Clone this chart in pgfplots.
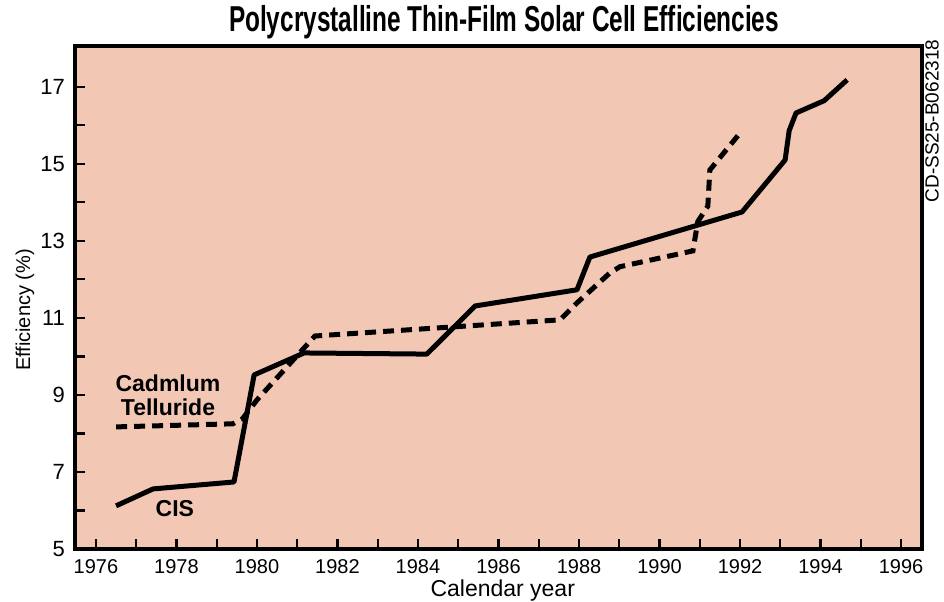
\documentclass[border=0pt]{standalone}
\usepackage{pgfplots}
\pgfplotsset{compat=1.18}
\usepackage{fontspec}
\setmainfont{Liberation Sans}
\usepackage{graphicx}
\definecolor{peach}{RGB}{242,200,181}

\begin{document}
\begin{tikzpicture}
\begin{axis}[
  name=ax,
  width=423.5pt, height=251.5pt, scale only axis,
  xmin=1975.48, xmax=1996.52, ymin=5, ymax=18.06,
  axis background/.style={fill=peach},
  axis line style={line width=2pt},
  tick align=inside, xtick pos=lower, ytick pos=left,
  major tick length=5pt, minor tick length=5pt,
  every tick/.style={black, line width=1.1pt},
  xtick={1976,1978,...,1996}, minor xtick={1977,1979,...,1995},
  ytick={5,7,...,17}, minor ytick={6,8,...,16},
  xticklabel={\pgfmathprintnumber[fixed,precision=0,1000 sep={}]{\tick}},
  xticklabel style={font=\fontsize{10}{11}\selectfont, yshift=-1.5pt},
  yticklabel style={font=\fontsize{11}{12}\selectfont, xshift=-1.5pt},
  /pgf/number format/assume math mode=true,
  xlabel={Calendar year}, ylabel={Efficiency (\%)},
  xlabel style={font=\fontsize{11.5}{12}\selectfont, at={(rel axis cs:0.505,-0.0954)}, anchor=base},
  ylabel style={font=\fontsize{10}{12}\selectfont, at={(rel axis cs:-0.059,0.475)}, anchor=center},
  clip=false,
]
% CIS
\addplot[black, line width=2.5pt, line join=round] coordinates {
  (1976.5,6.12)(1977.42,6.56)(1979.43,6.74)(1979.93,9.52)(1981.17,10.09)
  (1984.22,10.06)(1985.42,11.31)(1987.95,11.73)(1988.27,12.58)(1992.05,13.75)
  (1993.12,15.10)(1993.22,15.86)(1993.39,16.32)(1994.09,16.64)(1994.66,17.18)};
% Cadmium telluride
\addplot[black, line width=2.5pt, dash pattern=on 5.5pt off 3.5pt] coordinates {
  (1976.5,8.17)(1979.4,8.25)(1979.64,8.38)(1980.0,8.87)(1981.44,10.53)
  (1987.53,10.95)(1987.94,11.38)(1988.77,12.17)(1989.02,12.33)(1990.83,12.74)
  (1990.95,13.5)(1991.2,13.9)(1991.25,14.84)(1992.0,15.8)};
% labels
\node[font=\fontsize{11.5}{12}\selectfont\bfseries] at (axis cs:1977.79,9.31) {Cadmlum};
\node[font=\fontsize{11.5}{12}\selectfont\bfseries] at (axis cs:1977.79,8.69) {Telluride};
\node[font=\fontsize{11.5}{12}\selectfont\bfseries] at (axis cs:1977.96,6.04) {CIS};
\node[anchor=base] at (rel axis cs:0.5065,1.0278)
  {\resizebox{275pt}{\height}{\fontsize{18}{20}\selectfont\bfseries Polycrystalline Thin-Film Solar Cell Efficiencies}};
\node[rotate=90, font=\fontsize{9.5}{10}\selectfont] at (rel axis cs:1.0118,0.851) {CD-SS25-B062318};
\end{axis}
\pgfresetboundingbox
\useasboundingbox ([xshift=-37.5pt,yshift=-26.5pt]ax.south west) rectangle ([xshift=11pt,yshift=23pt]ax.north east);
\end{tikzpicture}
\end{document}
